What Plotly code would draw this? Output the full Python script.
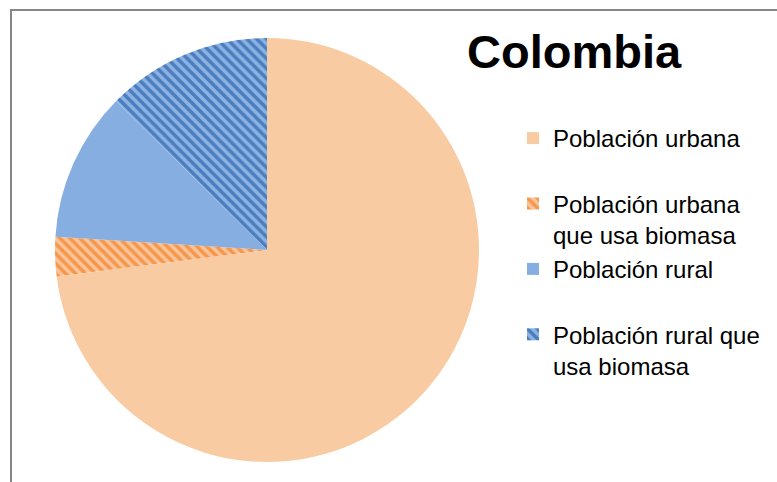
import plotly.graph_objects as go

labels = ["Población urbana", "Población urbana<br>que usa biomasa", "Población rural", "Población rural que<br>usa biomasa"]
legend_labels = ["Población urbana<br> ", "Población urbana<br>que usa biomasa", "Población rural<br> ", "Población rural que<br>usa biomasa"]
values = [73.0, 3.0, 11.4, 12.6]

base_colors = ["#F9CBA2", "#F9C096", "#87AEE0", "#86AEE0"]
pattern_shapes = ["", "\\", "", "\\"]
pattern_fg = ["#F9CBA2", "#F5974A", "#87AEE0", "#4A7DBE"]
pattern_bg = ["#F9CBA2", "#FAC49A", "#87AEE0", "#8DB3E3"]

fig = go.Figure(go.Pie(
    labels=legend_labels,
    values=values,
    sort=False,
    direction="clockwise",
    rotation=0,
    textinfo="none",
    hoverinfo="label+percent",
    marker=dict(
        colors=base_colors,
        line=dict(width=0),
        pattern=dict(shape=pattern_shapes, fgcolor=pattern_fg, bgcolor=pattern_bg,
                     size=7, solidity=0.5, fillmode="replace"),
    ),
    domain=dict(x=[55/777, 479/777], y=[20/482, 444/482]),
))

fig.update_layout(
    width=777, height=482,
    margin=dict(l=0, r=0, t=0, b=0),
    paper_bgcolor="white",
    font=dict(family="Arial, Liberation Sans, sans-serif", color="black"),
    title=dict(text="<b>Colombia</b>", x=467/777, xref="container", xanchor="left",
               y=1 - 52/482, yref="container", yanchor="middle",
               font=dict(size=47, family="Arial, Liberation Sans, sans-serif", color="black")),
    legend=dict(x=513/777, y=1 - 116/482, xanchor="left", yanchor="top",
                font=dict(size=24, color="black"), valign="top",
                bgcolor="rgba(0,0,0,0)", traceorder="normal"),
    shapes=[
        dict(type="line", xref="paper", yref="paper", x0=11/777, x1=11/777, y0=1 - 10/482, y1=-0.05,
             line=dict(color="#868686", width=2)),
        dict(type="line", xref="paper", yref="paper", x0=10/777, x1=1.05, y0=1 - 10/482, y1=1 - 10/482,
             line=dict(color="#868686", width=2)),
    ],
)

fig.write_html("out.html", config={"displayModeBar": False},
               post_script="document.body.style.margin='0';document.body.style.padding='0';")
